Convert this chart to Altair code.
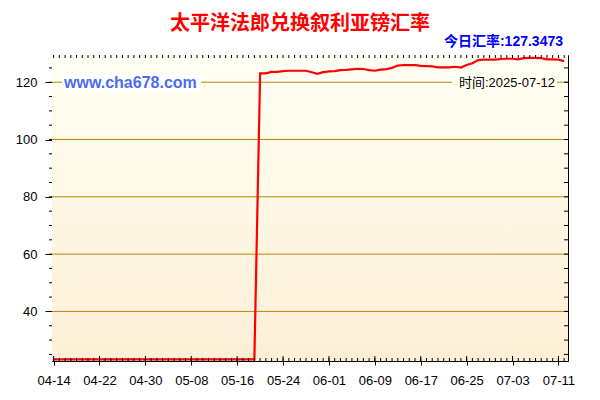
import altair as alt
import pandas as pd

# ---------------- data ----------------
rates = [
    23.3, 23.3, 23.3, 23.3, 23.3, 23.3, 23.3, 23.3, 23.3, 23.3, 23.3, 23.3,
    23.3, 23.3, 23.3, 23.3, 23.3, 23.3, 23.3, 23.3, 23.3, 23.3, 23.3, 23.3,
    23.3, 23.3, 23.3, 23.3, 23.3, 23.3, 23.3, 23.3, 23.3, 23.3, 23.3, 23.3,
    123.1, 123.1, 123.6, 123.6, 123.9, 124.0, 124.0, 124.0, 124.0, 123.5,
    122.9, 123.5, 123.8, 123.9, 124.2, 124.3, 124.5, 124.7, 124.6, 124.2,
    124.0, 124.4, 124.6, 125.0, 125.8, 126.0, 126.0, 126.0, 125.7, 125.6,
    125.5, 125.2, 125.2, 125.2, 125.4, 125.1, 126.0, 126.6, 127.7, 127.9,
    127.9, 127.9, 128.1, 128.2, 128.2, 128.0, 128.4, 128.5, 128.5, 128.4,
    128.0, 128.0, 127.9, 127.3473,
]
start_date = "2025-04-14"
dates = [d.strftime("%Y-%m-%d") for d in pd.date_range(start_date, periods=len(rates), freq="D")]

x_tick_labels = ["04-14", "04-22", "04-30", "05-08", "05-16", "05-24",
                 "06-01", "06-09", "06-17", "06-25", "07-03", "07-11"]
y_major = [40, 60, 80, 100, 120]
y_minor = [25, 30, 35, 40, 45, 50, 55, 60, 65, 70, 75, 80, 85, 90, 95, 100,
           105, 110, 115, 120, 125]

title_text = "太平洋法郎兑换叙利亚镑汇率"
today_text = "今日汇率:127.3473"
site_text = "www.cha678.com"
time_text = "时间:2025-07-12"

# ---------------- layout ----------------
W, H = 516, 306
FONT = "Liberation Sans, Arial, Noto Sans CJK SC"
CJK = "Noto Sans CJK SC, Liberation Sans"

df = pd.DataFrame({"date": dates, "rate": rates})
minor_df = pd.DataFrame({"rate": y_minor})
grid_df = pd.DataFrame({"rate": y_major})
major_df = pd.DataFrame({"date": ["2025-" + s for s in x_tick_labels]})
one = pd.DataFrame({"a": [0]})

x_scale = alt.Scale(
    type="utc",
    domain=[alt.DateTime(year=2025, month=4, date=13, hours=17, minutes=20, utc=True),
            alt.DateTime(year=2025, month=7, date=12, hours=16, utc=True)],
)
y_scale = alt.Scale(domain=[22.7, 129.5], nice=False, zero=False)

major_dates = [alt.DateTime(year=2025, month=int(s[:2]), date=int(s[3:]), utc=True)
               for s in x_tick_labels]

X = alt.X("date:T", scale=x_scale,
          axis=alt.Axis(values=major_dates, format="%m-%d", title=None,
                        grid=False, tickSize=4, labelPadding=9,
                        labelFontSize=13))
Y = alt.Y("rate:Q", scale=y_scale,
          axis=alt.Axis(values=y_major, title=None, grid=False,
                        tickSize=7, labelPadding=8, labelFontSize=13))

bg = alt.Chart(one).mark_rect(
    fill=alt.Gradient(
        gradient="linear", x1=0, y1=0, x2=0, y2=1,
        stops=[alt.GradientStop(color="#FFFFF4", offset=0),
               alt.GradientStop(color="#FCEFD6", offset=1)],
    )
).encode(x=alt.value(0), x2=alt.value(W), y=alt.value(0), y2=alt.value(H))

grid = alt.Chart(grid_df).mark_rule(color="#B88600", strokeWidth=1).encode(
    y=Y, x=alt.value(0), x2=alt.value(W))

line = alt.Chart(df).mark_line(color="#FF0000", strokeWidth=2.2).encode(x=X, y=Y)

# inner day ticks at bottom and top
bottom_ticks = alt.Chart(df).mark_rule(color="black", strokeWidth=1).encode(
    x=X, y=alt.value(H - 3), y2=alt.value(H))
top_ticks = alt.Chart(df).mark_rule(color="black", strokeWidth=1).encode(
    x=X, y=alt.value(0), y2=alt.value(3))
bottom_major_in = alt.Chart(major_df).mark_rule(color="black").encode(
    x=X, y=alt.value(H - 5), y2=alt.value(H))

left_minor = alt.Chart(minor_df).mark_rule(color="black").encode(
    y=Y, x=alt.value(-3), x2=alt.value(0))
right_minor = alt.Chart(minor_df).mark_rule(color="black").encode(
    y=Y, x=alt.value(W - 4), x2=alt.value(W))

# text boxes
site_box = alt.Chart(one).mark_rect(fill="#FFFFFF").encode(
    x=alt.value(10), x2=alt.value(149), y=alt.value(19), y2=alt.value(37))
time_box = alt.Chart(one).mark_rect(fill="#FFFFF3").encode(
    x=alt.value(400), x2=alt.value(505), y=alt.value(20), y2=alt.value(35))

title = alt.Chart(one).mark_text(
    text=title_text, font=CJK, fontSize=20, fontWeight="bold", color="#FF0000",
    align="center", baseline="middle").encode(x=alt.value(248), y=alt.value(-31))
today = alt.Chart(one).mark_text(
    text=today_text, font=FONT, fontSize=14, fontWeight="bold", color="#0000FF",
    align="right", baseline="middle").encode(x=alt.value(511), y=alt.value(-13))
site = alt.Chart(one).mark_text(
    text=site_text, font=FONT, fontSize=16, fontWeight="bold", color="#4A6CF0",
    align="left", baseline="middle").encode(x=alt.value(12), y=alt.value(28))
timel = alt.Chart(one).mark_text(
    text=time_text, font=FONT, fontSize=13, color="#000000",
    align="right", baseline="middle").encode(x=alt.value(503), y=alt.value(27.5))

chart = alt.layer(
    bg, grid, site_box, time_box, line, bottom_ticks, top_ticks, bottom_major_in,
    left_minor, right_minor, title, today, site, timel,
).properties(
    width=W, height=H,
    autosize=alt.AutoSizeParams(type="none"),
    padding={"left": 44, "top": 47, "right": 24, "bottom": 31},
).configure_view(
    stroke="black", strokeWidth=1,
).configure_axis(
    domainColor="black", tickColor="black", labelColor="black",
    labelFont="Liberation Sans",
)

chart.save("out.html", embed_options={"renderer": "svg", "actions": False})
